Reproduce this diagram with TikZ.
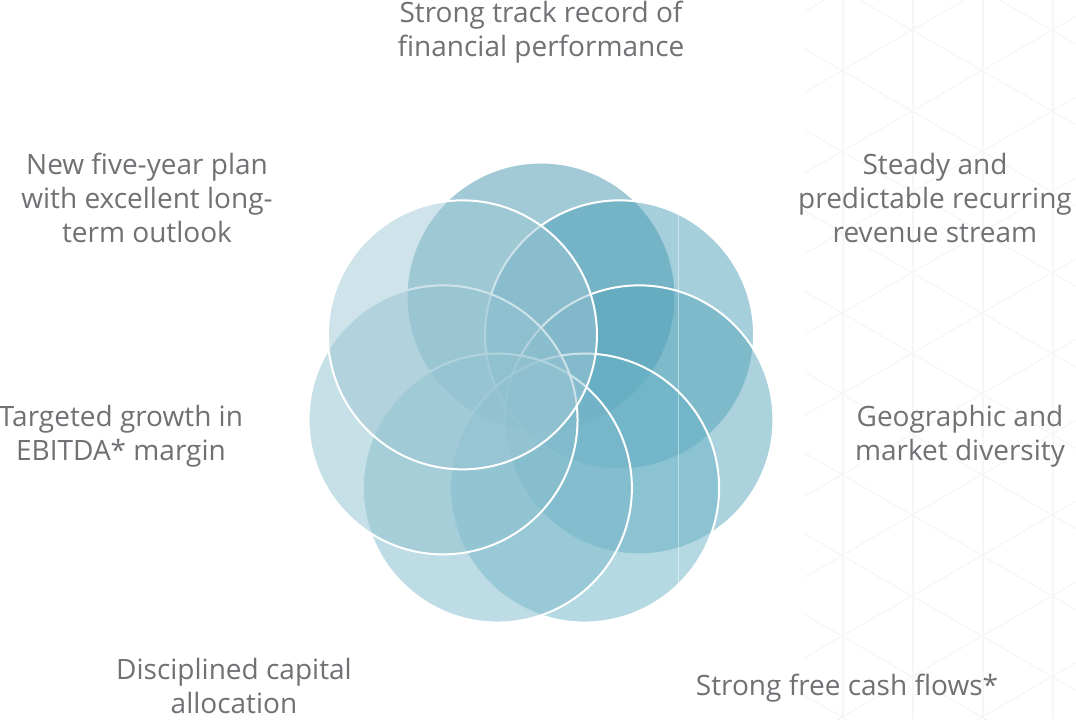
\documentclass[tikz,border=0pt]{standalone}
\usepackage{fontspec}
\setmainfont{Open Sans}
\usepackage{xcolor}
\definecolor{petal0}{RGB}{67,149,173}
\definecolor{petal1}{RGB}{75,159,183}
\definecolor{petal2}{RGB}{89,167,187}
\definecolor{petal3}{RGB}{107,179,199}
\definecolor{petal4}{RGB}{125,185,203}
\definecolor{petal5}{RGB}{141,193,207}
\definecolor{petal6}{RGB}{159,199,213}
\definecolor{textgray}{RGB}{112,112,117}
\definecolor{latticegray}{RGB}{246,246,246}

\begin{document}
\begin{tikzpicture}[x=0.75pt,y=-0.75pt,
  petal/.style={fill=#1,fill opacity=.5,draw=white,line width=1.5pt},
  feature/.style={text=textgray,align=center,inner sep=0pt,font=\fontsize{21}{25.5}\selectfont},
  lattice/.style={draw=latticegray,line width=1pt}]
  \useasboundingbox (0,0) rectangle (1076,719);

  % faint triangle pattern on the right
  \begin{scope}
    \clip (805,0) rectangle (1076,719);
    \foreach \xv in {843,913,983,1053}
      \draw [lattice] (\xv,0) -- (\xv,719);
    \foreach \n in {-5,...,7} {
      \draw [lattice] (800,207.9+80.8*\n) -- (1076,367.3+80.8*\n);
      \draw [lattice] (800,418.1-80.8*\n) -- (1076,258.7-80.8*\n);
    }
  \end{scope}

  % seven overlapping circles, clockwise from the top
  \coordinate (mid) at (541,397.5);
  \foreach \k in {0,...,6} {
    \path (mid) ++(-90+51.4286*\k:100.5) coordinate (c\k);
    \draw [petal=petal\k] (c\k) circle [radius=134.5];
  }
  \begin{scope}
    \clip foreach \k in {0,...,6} {(c\k) circle [radius=134.5]};
    \draw [white, opacity=.45, line width=.9pt] (678.5,150) -- (678.5,650);
  \end{scope}

  \node [feature] (track)     at (541,32)  {Strong track record of\\financial performance};
  \node [feature] (revenue)   at (935,198) {Steady and\\predictable recurring\\revenue stream};
  \node [feature] (diversity) at (960,436) {Geographic and\\market diversity};
  \node [feature] (cashflow)  at (847,688) {Strong free cash flows*};
  \node [feature] (capital)   at (234,686) {Disciplined capital\\allocation};
  \node [feature] (ebitda)    at (121,436) {Targeted growth in\\EBITDA* margin};
  \node [feature] (plan)      at (147,198) {New five-year plan\\with excellent long-\\term outlook};
\end{tikzpicture}
\end{document}
